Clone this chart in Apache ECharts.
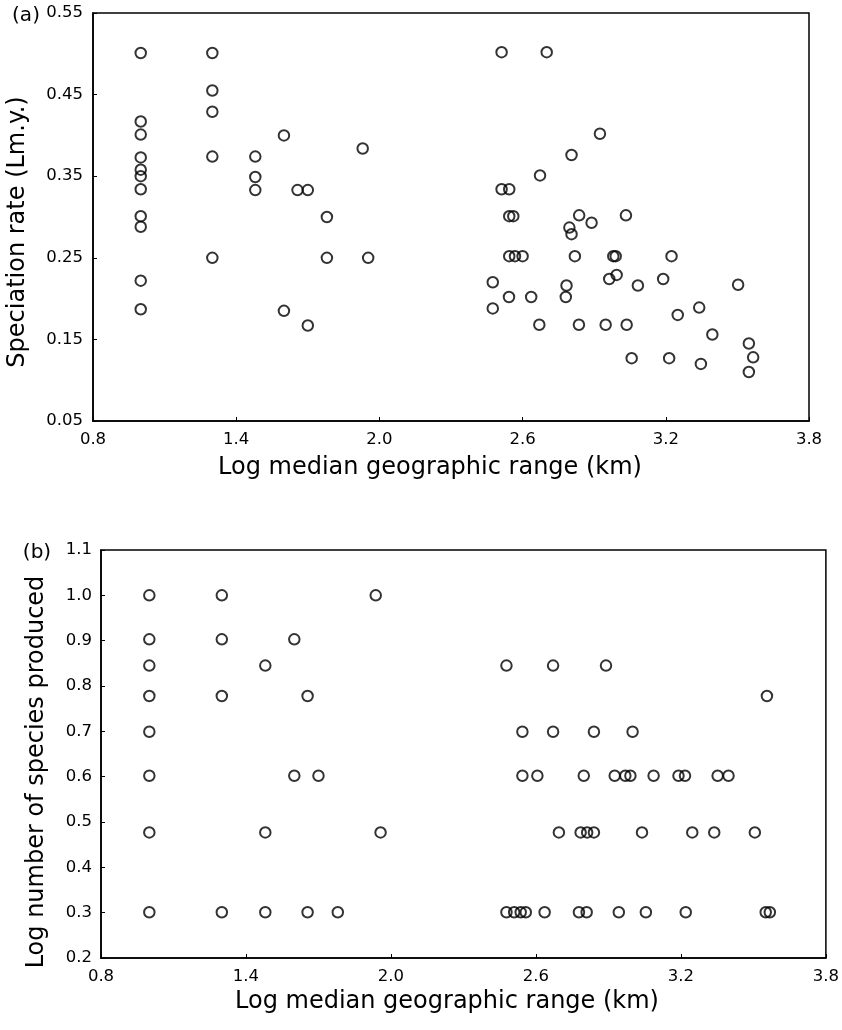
<!DOCTYPE html>
<html>
<head>
<meta charset="utf-8">
<script src="https://cdn.jsdelivr.net/npm/echarts@6/dist/echarts.min.js"></script>
<style>html,body{margin:0;padding:0;background:#fff}#c{width:842px;height:1030px}</style>
</head>
<body>
<div id="c"></div>
<script>
// ---------- data ----------
const xTicks = [0.8, 1.4, 2.0, 2.6, 3.2, 3.8];
const yTicksA = [0.05, 0.15, 0.25, 0.35, 0.45, 0.55];
const yTicksB = [0.2, 0.3, 0.4, 0.5, 0.6, 0.7, 0.8, 0.9, 1.0, 1.1];

// Panel (a): log median geographic range vs speciation rate
const xA = [1.0,1.0,1.0,1.0,1.0,1.0,1.0,1.0,1.0,1.0,1.0,
  1.30,1.30,1.30,1.30,1.30,
  1.48,1.48,1.48,
  1.60,1.60,1.657,1.70,1.70,1.78,1.78,1.93,1.953,
  2.512,2.701,2.924,2.805,2.673,2.512,2.544,2.544,2.561,2.837,2.889,3.033,2.796,2.805,
  2.544,2.568,2.600,2.819,2.980,2.990,3.224,
  2.475,2.963,2.994,3.083,3.189,3.503,2.784,2.781,2.543,2.636,2.475,
  2.670,2.836,2.948,3.036,3.340,3.250,3.395,3.548,3.566,3.548,3.057,3.214,3.347];
const yA = [0.501,0.417,0.401,0.373,0.358,0.350,0.334,0.301,0.288,0.222,0.187,
  0.501,0.455,0.429,0.374,0.250,
  0.374,0.349,0.333,
  0.400,0.185,0.333,0.333,0.167,0.300,0.250,0.384,0.250,
  0.502,0.502,0.402,0.376,0.351,0.334,0.334,0.301,0.301,0.302,0.293,0.302,0.287,0.279,
  0.252,0.252,0.252,0.252,0.252,0.252,0.252,
  0.220,0.224,0.229,0.216,0.224,0.217,0.216,0.202,0.202,0.202,0.188,
  0.168,0.168,0.168,0.168,0.189,0.180,0.156,0.145,0.128,0.110,0.127,0.127,0.120];

// Panel (b): log median geographic range vs log number of species produced
const xB = [1.0,1.0,1.0,1.0,1.0,1.0,1.0,1.0,
  1.30,1.30,1.30,1.30,
  1.48,1.48,1.48,
  1.60,1.60,1.655,1.655,1.70,1.78,1.937,1.957,
  2.478,2.671,2.890,
  3.556,
  2.544,2.671,2.840,3.000,
  2.544,2.606,2.798,2.926,2.970,2.991,3.087,3.190,3.217,3.352,3.397,
  2.695,2.785,2.812,2.840,3.039,3.247,3.338,3.506,
  2.478,2.510,2.537,2.558,2.636,2.778,2.810,2.943,3.055,3.220,3.551,3.568];
const yB = [1.0,0.903,0.845,0.778,0.699,0.602,0.477,0.301,
  1.0,0.903,0.778,0.301,
  0.845,0.477,0.301,
  0.903,0.602,0.778,0.301,0.602,0.301,1.0,0.477,
  0.845,0.845,0.845,
  0.778,
  0.699,0.699,0.699,0.699,
  0.602,0.602,0.602,0.602,0.602,0.602,0.602,0.602,0.602,0.602,0.602,
  0.477,0.477,0.477,0.477,0.477,0.477,0.477,0.477,
  0.301,0.301,0.301,0.301,0.301,0.301,0.301,0.301,0.301,0.301,0.301,0.301];

// ---------- chart ----------
const FONT = 'DejaVu Sans';
const pairs = (xs, ys) => xs.map((x, i) => [x, ys[i]]);
const tickLabel = {fontFamily: FONT, fontSize: 16.5, color: '#000'};
function xAxisFor(gi) {
  return {
    type: 'value', gridIndex: gi, min: 0.8, max: 3.8,
    axisLine: {show: true, lineStyle: {color: '#000', width: 1.6}},
    axisTick: {show: true, inside: true, length: 4, customValues: xTicks, lineStyle: {color: '#000'}},
    axisLabel: Object.assign({margin: 10, customValues: xTicks, formatter: v => v.toFixed(1)}, tickLabel),
    splitLine: {show: false}
  };
}
function yAxisFor(gi, min, max, ticks, dec, margin) {
  return {
    type: 'value', gridIndex: gi, min: min, max: max,
    axisLine: {show: true, lineStyle: {color: '#000', width: 1.6}},
    axisTick: {show: true, inside: true, length: 4, customValues: ticks, lineStyle: {color: '#000'}},
    axisLabel: Object.assign({margin: margin, customValues: ticks, formatter: v => v.toFixed(dec)}, tickLabel),
    splitLine: {show: false}
  };
}
const circleStyle = {color: 'rgba(0,0,0,0)', borderColor: '#000', borderWidth: 2};
const titleStyle = {fontFamily: FONT, fontSize: 24, fill: '#000'};

const chart = echarts.init(document.getElementById('c'), null, {renderer: 'canvas'});
chart.setOption({
  backgroundColor: '#fff',
  animation: false,
  grid: [
    {left: 93, top: 13, right: 33, height: 408, show: true, borderColor: '#000', borderWidth: 1.5, backgroundColor: 'transparent'},
    {left: 101, top: 550, right: 14, height: 408, show: true, borderColor: '#000', borderWidth: 1.5, backgroundColor: 'transparent'}
  ],
  xAxis: [xAxisFor(0), xAxisFor(1)],
  yAxis: [
    yAxisFor(0, 0.05, 0.55, yTicksA, 2, 10),
    yAxisFor(1, 0.2, 1.1, yTicksB, 1, 9)
  ],
  series: [
    {type: 'scatter', xAxisIndex: 0, yAxisIndex: 0, data: pairs(xA, yA), symbol: 'circle', symbolSize: 10.5, itemStyle: circleStyle},
    {type: 'scatter', xAxisIndex: 1, yAxisIndex: 1, data: pairs(xB, yB), symbol: 'circle', symbolSize: 10.5, itemStyle: circleStyle}
  ],
  graphic: [
    {type: 'text', x: 26, y: 16, style: {text: '(a)', fontFamily: FONT, fontSize: 20, fill: '#000', align: 'center', verticalAlign: 'middle'}},
    {type: 'text', x: 37, y: 553, style: {text: '(b)', fontFamily: FONT, fontSize: 20, fill: '#000', align: 'center', verticalAlign: 'middle'}},
    {type: 'text', x: 18, y: 232, rotation: Math.PI / 2, style: Object.assign({text: 'Speciation rate (Lm.y.)', align: 'center', verticalAlign: 'middle'}, titleStyle)},
    {type: 'text', x: 37, y: 772, rotation: Math.PI / 2, style: Object.assign({text: 'Log number of species produced', align: 'center', verticalAlign: 'middle'}, titleStyle)},
    {type: 'text', x: 430, y: 468, style: Object.assign({text: 'Log median geographic range (km)', align: 'center', verticalAlign: 'middle'}, titleStyle)},
    {type: 'text', x: 447, y: 1002, style: Object.assign({text: 'Log median geographic range (km)', align: 'center', verticalAlign: 'middle'}, titleStyle)}
  ]
});
</script>
</body>
</html>
